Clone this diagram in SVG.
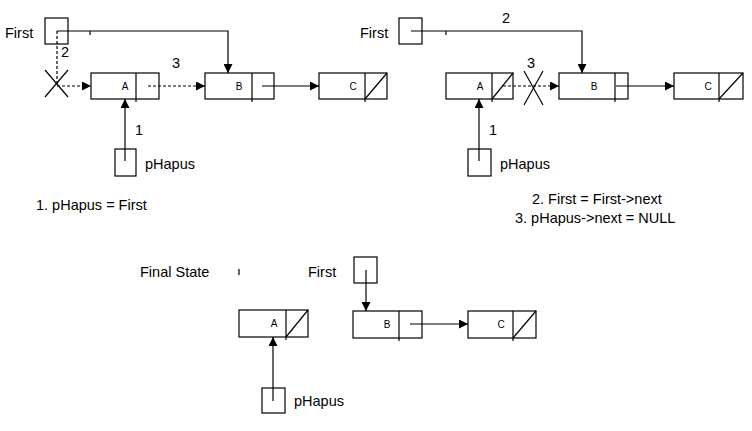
<svg xmlns="http://www.w3.org/2000/svg" width="752" height="431" viewBox="0 0 752 431">
<style>
.box{fill:#fff;stroke:#000;stroke-width:1.2}
.ln{fill:none;stroke:#000;stroke-width:1.2}
.dash{fill:none;stroke:#000;stroke-width:1.2;stroke-dasharray:3 2}
.t{font-family:"Liberation Sans",Arial,sans-serif;font-size:14.5px;fill:#000}
.s{font-family:"Liberation Sans",Arial,sans-serif;font-size:10px;fill:#000;text-anchor:middle}
</style>
<defs>
<marker id="ar" viewBox="0 0 10 10" refX="10" refY="5" markerWidth="9" markerHeight="9" markerUnits="userSpaceOnUse" orient="auto"><path d="M0,0 L10,5 L0,10 z" fill="#000"/></marker>
</defs>
<rect width="752" height="431" fill="#fff"/>

<!-- Panel 1 -->
<g id="p1-first"><rect class="box" x="45" y="18" width="23" height="26"/><text class="t" x="5" y="38">First</text></g>
<g id="p1-A"><rect class="box" x="91" y="73" width="68" height="26"/><line class="ln" x1="136" y1="73" x2="136" y2="102"/><text class="s" x="125" y="90">A</text></g>
<g id="p1-B"><rect class="box" x="205" y="73" width="69" height="26"/><line class="ln" x1="252" y1="73" x2="252" y2="102"/><text class="s" x="239" y="90">B</text></g>
<g id="p1-C"><rect class="box" x="319" y="73" width="68" height="26"/><line class="ln" x1="365" y1="73" x2="365" y2="102"/><line class="ln" x1="365" y1="99" x2="387" y2="73"/><text class="s" x="353" y="90">C</text></g>
<g id="p1-phapus"><rect class="box" x="115" y="149" width="21" height="27"/><text class="t" x="145" y="169">pHapus</text></g>
<g id="p1-cap"><text class="t" x="36" y="210">1. pHapus = First</text></g>

<!-- Panel 2 -->
<g id="p2-first"><rect class="box" x="399" y="18" width="23" height="26"/><text class="t" x="360" y="38">First</text></g>
<g id="p2-A"><rect class="box" x="446" y="73" width="67" height="26"/><line class="ln" x1="492" y1="73" x2="492" y2="102"/><line class="ln" x1="492" y1="99" x2="513" y2="73"/><text class="s" x="480" y="90">A</text></g>
<g id="p2-B"><rect class="box" x="559" y="73" width="69" height="26"/><line class="ln" x1="615" y1="73" x2="615" y2="102"/><text class="s" x="594" y="90">B</text></g>
<g id="p2-C"><rect class="box" x="674" y="73" width="69" height="26"/><line class="ln" x1="719" y1="73" x2="719" y2="102"/><line class="ln" x1="719" y1="99" x2="743" y2="73"/><text class="s" x="708" y="90">C</text></g>
<g id="p2-phapus"><rect class="box" x="468" y="149" width="23" height="27"/><text class="t" x="500" y="169">pHapus</text></g>
<g id="p2-cap"><text class="t" x="532" y="204">2. First = First-&gt;next</text><text class="t" x="515" y="223">3. pHapus-&gt;next = NULL</text></g>

<!-- Panel 3 -->
<g id="p3-label"><text class="t" x="140" y="277">Final State</text><line class="ln" x1="239" y1="269" x2="239" y2="275"/></g>
<g id="p3-first"><rect class="box" x="354" y="257" width="23" height="26"/><text class="t" x="308" y="277">First</text></g>
<g id="p3-A"><rect class="box" x="239" y="310" width="69" height="27"/><line class="ln" x1="286" y1="310" x2="286" y2="340"/><line class="ln" x1="286" y1="337" x2="308" y2="310"/><text class="s" x="274" y="327">A</text></g>
<g id="p3-B"><rect class="box" x="353" y="311" width="69" height="27"/><line class="ln" x1="399" y1="311" x2="399" y2="341"/><text class="s" x="387" y="328">B</text></g>
<g id="p3-C"><rect class="box" x="468" y="311" width="68" height="27"/><line class="ln" x1="513" y1="311" x2="513" y2="341"/><line class="ln" x1="513" y1="338" x2="536" y2="311"/><text class="s" x="501" y="328">C</text></g>
<g id="p3-phapus"><rect class="box" x="262" y="388" width="23" height="25"/><text class="t" x="294" y="406">pHapus</text></g>

<g id="connectors">
<!-- panel 1 -->
<polyline class="ln" points="57,31 228,31 228,73" marker-end="url(#ar)"/>
<line class="ln" x1="90" y1="31" x2="90" y2="35"/>
<line class="dash" x1="57" y1="31" x2="57" y2="86"/>
<line class="dash" x1="57" y1="86" x2="91" y2="86" marker-end="url(#ar)"/>
<line class="ln" x1="45" y1="70" x2="68" y2="97"/>
<line class="ln" x1="68" y1="70" x2="45" y2="97"/>
<text class="t" x="61" y="57">2</text>
<line class="dash" x1="148" y1="86" x2="205" y2="86" marker-end="url(#ar)"/>
<text class="t" x="172" y="68">3</text>
<line class="ln" x1="262" y1="86" x2="319" y2="86" marker-end="url(#ar)"/>
<line class="ln" x1="125" y1="161" x2="125" y2="99" marker-end="url(#ar)"/>
<text class="t" x="135" y="135">1</text>
<!-- panel 2 -->
<polyline class="ln" points="411,31 582,31 582,73" marker-end="url(#ar)"/>
<line class="ln" x1="446" y1="31" x2="446" y2="35"/>
<text class="t" x="502" y="23">2</text>
<line class="dash" x1="503" y1="86" x2="559" y2="86" marker-end="url(#ar)"/>
<line class="ln" x1="524" y1="71" x2="543" y2="105"/>
<line class="ln" x1="543" y1="71" x2="524" y2="105"/>
<text class="t" x="527" y="68">3</text>
<line class="ln" x1="616" y1="86" x2="674" y2="86" marker-end="url(#ar)"/>
<line class="ln" x1="479" y1="161" x2="479" y2="99" marker-end="url(#ar)"/>
<text class="t" x="489" y="135">1</text>
<!-- panel 3 -->
<line class="ln" x1="366" y1="270" x2="366" y2="311" marker-end="url(#ar)"/>
<line class="ln" x1="410" y1="324" x2="468" y2="324" marker-end="url(#ar)"/>
<line class="ln" x1="273" y1="401" x2="273" y2="337" marker-end="url(#ar)"/>
</g>
</svg>
